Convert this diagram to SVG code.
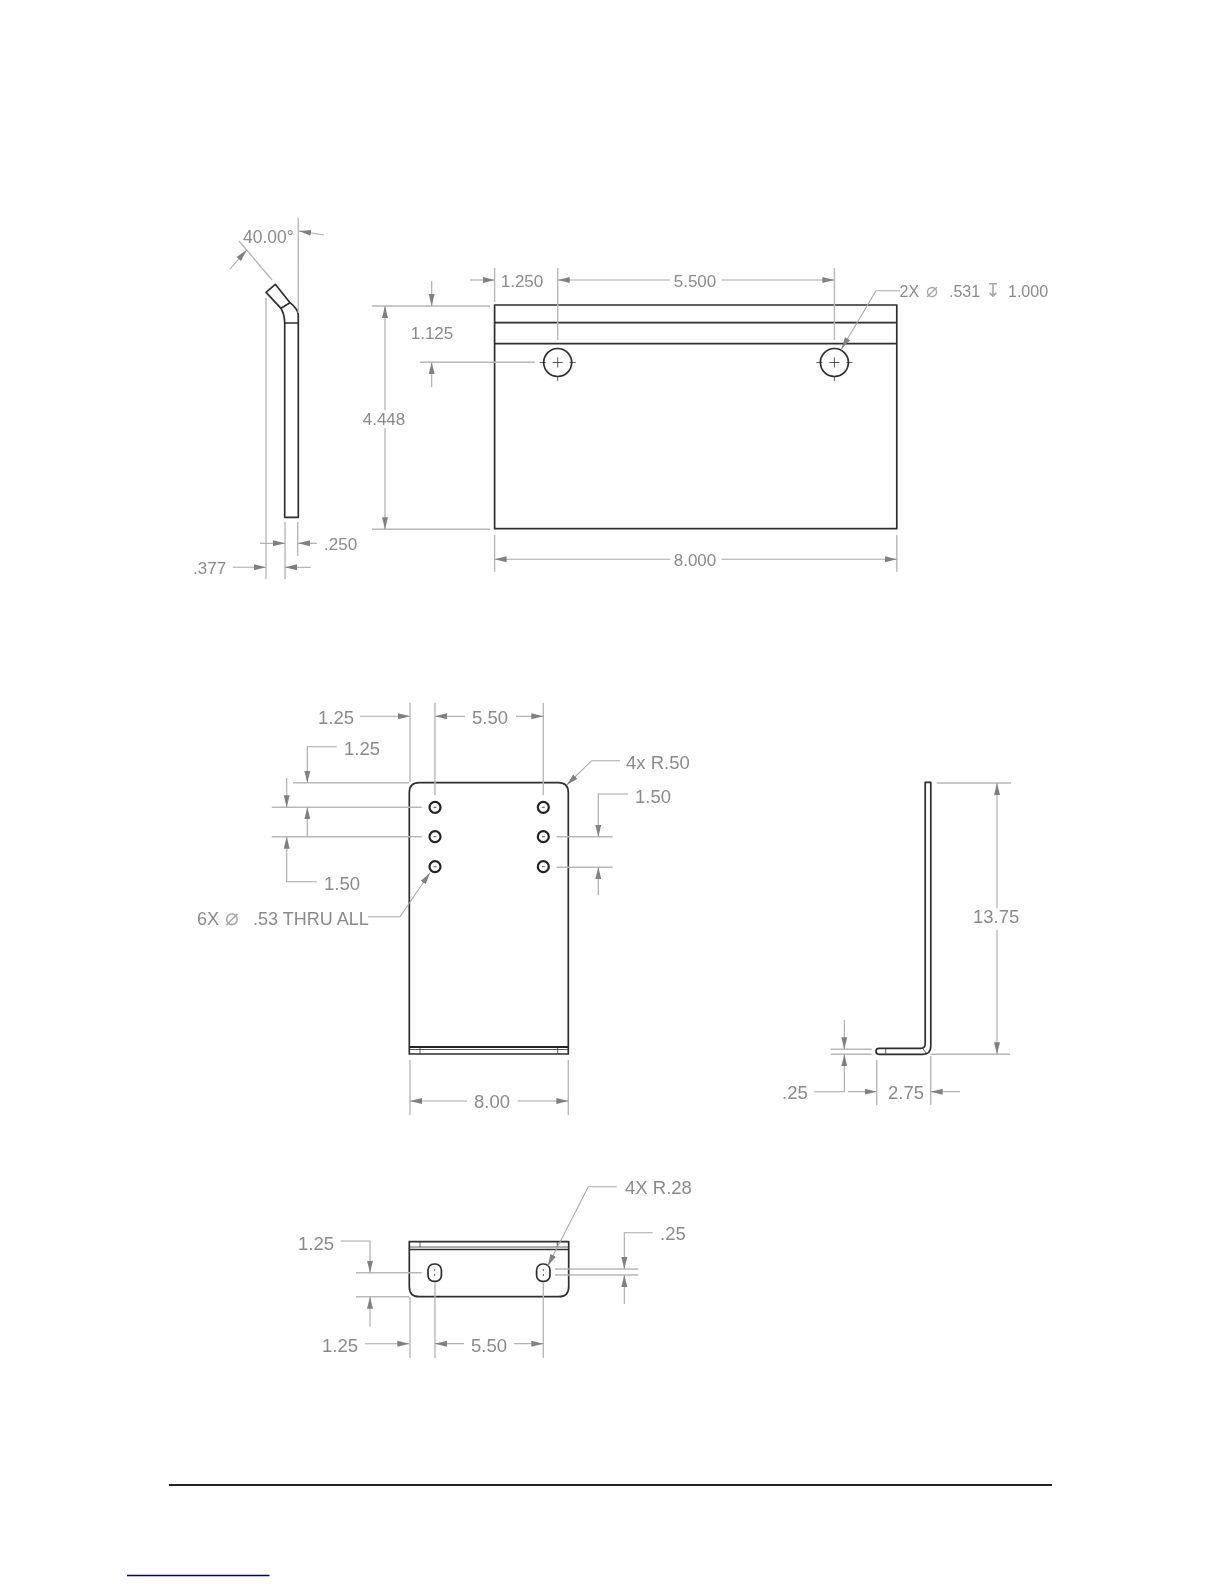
<svg xmlns="http://www.w3.org/2000/svg" width="1224" height="1584" viewBox="0 0 1224 1584">
<style>
text{font-family:"Liberation Sans","DejaVu Sans",sans-serif;fill:#8a8a8a;font-size:17px}
.b{font-size:18.5px}
.m{text-anchor:middle}
.sym{font-family:"DejaVu Sans",sans-serif;font-size:20px;fill:#a8a8a8}
.o{fill:none;stroke:#2e2e2e;stroke-width:1.7;stroke-linejoin:round}
.t{fill:none;stroke:#2e2e2e;stroke-width:.8}
.h{fill:none;stroke:#222;stroke-width:2}
.e{fill:none;stroke:#b8b8b8;stroke-width:1.4}
.a{fill:none;stroke:#a8a8a8;stroke-width:1.1}
.arrow{marker-end:url(#ah)}
</style>
<defs>
<marker id="ah" markerUnits="userSpaceOnUse" markerWidth="13" markerHeight="8" refX="12" refY="4" orient="auto">
<path d="M0 1L12 4L0 7Z" fill="#808080"/>
</marker>
<filter id="soft" x="0" y="0" width="100%" height="100%" filterUnits="userSpaceOnUse"><feGaussianBlur stdDeviation=".35"/></filter>
</defs>
<rect width="1224" height="1584" fill="#fff"/>
<g filter="url(#soft)">
<g id="profile-top">
<path class="o" d="M284.7 517.3H298.3V315Q298 309 290 302.7L275.3 284.3L266 292.3L281 308.3Q284.7 315 284.7 323V517.3Z"/>
<path class="o" d="M284.7 323H298.3M281 308.3L290 302.7"/>
</g>
<g id="front-top">
<rect class="o" x="494.6" y="305" width="402.2" height="223.7"/>
<path class="o" d="M494.6 322.7H896.8M494.6 343.7H896.8"/>
<circle class="o" cx="557.7" cy="362.5" r="14"/>
<circle class="o" cx="834.4" cy="362.5" r="14"/>
<path class="t" d="M539.7 362.5H545.7M552.7 362.5H562.7M569.7 362.5H575.7M557.7 357.5V367.5M557.7 376V381M816.4 362.5H822.4M829.4 362.5H839.4M846.4 362.5H852.4M834.4 357.5V367.5M834.4 376V381"/>
</g>
<g id="plate-front">
<path class="o" d="M409.3 1054V792.7Q409.3 782.7 419.3 782.7H558.3Q568.3 782.7 568.3 792.7V1054Z"/>
<path class="h" d="M409.3 1047H568.3"/>
<path class="t" d="M409.3 1049.5H568.3M420 1048V1054M557.7 1048V1054"/>
<g class="h" style="stroke-width:2.2;fill:none">
<circle cx="435" cy="807.3" r="5.5"/><circle cx="435" cy="836.7" r="5.5"/><circle cx="435" cy="866.7" r="5.5"/>
<circle cx="543.3" cy="807.3" r="5.5"/><circle cx="543.3" cy="836.7" r="5.5"/><circle cx="543.3" cy="866.7" r="5.5"/>
</g>
<path class="t" d="M433.5 807.3H436.5M433.5 836.7H436.5M433.5 866.7H436.5M541.8 807.3H544.8M541.8 836.7H544.8M541.8 866.7H544.8"/>
</g>
<g id="plate-side">
<path class="o" d="M925.2 782.3H930.8V1046Q930.8 1054.3 923 1054.3H879Q876 1054.3 876 1051.3Q876 1048.3 879 1048.3H921Q925.2 1048.3 925.2 1044Z"/>
<path class="t" d="M885.7 1048.3V1054.3M922.7 1048.3L926 1053"/>
</g>
<g id="plate-bottom">
<path class="o" d="M409.3 1241.7H568.7V1286.7Q568.7 1296.7 558.7 1296.7H419.3Q409.3 1296.7 409.3 1286.7Z"/>
<path class="o" d="M409.3 1249.5H568.7"/>
<path class="t" d="M409.3 1247H568.7M420 1242V1247M557.3 1242V1247"/>
<rect class="o" x="428" y="1264" width="13.4" height="17.4" rx="6"/>
<rect class="o" x="536.6" y="1264" width="13.4" height="17.4" rx="6"/>
<path class="t" d="M434.7 1269V1271M434.7 1274V1276M543.3 1269V1271M543.3 1274V1276"/>
</g>
<g id="connectors">
<path class="e" d="M298.3 218V313M239 241L272 280M266 298V579M285 522V579M297.7 522V556"/>
<path class="a arrow" d="M324 235L299 231"/>
<path class="a arrow" d="M230 269L246.7 250"/>
<path class="a arrow" d="M260 543.3H285"/>
<path class="a arrow" d="M317 543.3H298"/>
<path class="a arrow" d="M232.7 567.3H266"/>
<path class="a arrow" d="M310.7 567.3H285"/>
<path class="e" d="M372 306H490M372 529.3H490M420 362.3H535M494.6 268V302M557.7 268V340M834.4 268V340M494.6 535V571.7M896.8 535V571.7"/>
<path class="a arrow" d="M385 410V306"/>
<path class="a arrow" d="M385 428V529.3"/>
<path class="a arrow" d="M431.7 281V306"/>
<path class="a arrow" d="M431.7 387V362.3"/>
<path class="a arrow" d="M470 280H494.6"/>
<path class="a arrow" d="M670 280H557.7"/>
<path class="a arrow" d="M721.6 280H834.4"/>
<path class="a arrow" d="M670 559.3H494.6"/>
<path class="a arrow" d="M721.6 559.3H896.8"/>
<path class="a arrow" d="M900 290.7H876L841.4 349"/>
<path class="e" d="M410 702.7V782M435 702.7V795M543.3 702.7V795M293 782.7H409M271.7 807.3H421.7M271.7 836.7H421.7M556.7 836.7H612.7M556.7 867.3H612.7M410 1060V1115M568.3 1060V1115"/>
<path class="a arrow" d="M360 716.3H410"/>
<path class="a arrow" d="M465 716.3H435"/>
<path class="a arrow" d="M516 716.3H543.3"/>
<path class="a arrow" d="M336.7 746.7H307.3V782.7"/>
<path class="a arrow" d="M286.7 778V807.3"/>
<path class="a arrow" d="M307.3 836.7V807.3"/>
<path class="a arrow" d="M316.7 881.7H286.7V836.7"/>
<path class="a arrow" d="M368 916.7H400L430 872.7"/>
<path class="a arrow" d="M620 760.7H591.7L566.7 785"/>
<path class="a arrow" d="M628 794H598.3V836.7"/>
<path class="a arrow" d="M598.3 895V867.3"/>
<path class="a arrow" d="M467 1101H410"/>
<path class="a arrow" d="M517.7 1101H568.3"/>
<path class="e" d="M936.7 783H1011M930.7 1054.3H1010M830.7 1049.3H871.7M830.7 1054.3H871.7M876.7 1060V1105M930.7 1056V1105"/>
<path class="a arrow" d="M997 908V783"/>
<path class="a arrow" d="M997 930V1054.3"/>
<path class="a arrow" d="M844.3 1020V1049.3"/>
<path class="a arrow" d="M814.3 1091.7H844.3V1054.3"/>
<path class="a arrow" d="M848 1091.7H876.7"/>
<path class="a arrow" d="M960 1091.7H930.7"/>
<path class="e" d="M356 1272.7H421.7M356 1296.7H409M410 1297V1358M435 1282V1358M543.3 1282V1358M555 1269H638M555 1275H638"/>
<path class="a arrow" d="M340.7 1241H370V1272.7"/>
<path class="a arrow" d="M370 1326.7V1296.7"/>
<path class="a arrow" d="M365 1343.7H409.3"/>
<path class="a arrow" d="M464 1343.7H435"/>
<path class="a arrow" d="M514 1343.7H543.3"/>
<path class="a arrow" d="M616.7 1186.7H588.3L547.7 1266"/>
<path class="a arrow" d="M652.7 1232.7H624.3V1269"/>
<path class="a arrow" d="M624.3 1304V1275"/>
</g>
<g id="labels">
<text x="243" y="243" style="font-size:17.5px">40.00°</text>
<text x="324" y="550">.250</text>
<text x="193" y="574">.377</text>
<text class="m" x="384" y="425">4.448</text>
<text class="m" x="432" y="339">1.125</text>
<text class="m" x="522" y="287">1.250</text>
<text class="m" x="695" y="287">5.500</text>
<text class="m" x="695" y="565.7">8.000</text>
<text x="899.5" y="297" style="font-size:16px">2X<tspan class="sym" x="926">⌀</tspan><tspan x="949">.531</tspan><tspan class="sym" x="985" style="font-size:19px">↧</tspan><tspan x="1008">1.000</tspan></text>
<text class="b m" x="336" y="724">1.25</text>
<text class="b m" x="490" y="724">5.50</text>
<text class="b" x="344" y="755">1.25</text>
<text class="b" x="324" y="890">1.50</text>
<text x="197" y="925" style="font-size:18px">6X<tspan class="sym" x="225" style="font-size:23px">⌀</tspan><tspan x="253">.53 THRU ALL</tspan></text>
<text class="b" x="626" y="769">4x R.50</text>
<text class="b" x="635" y="803">1.50</text>
<text class="b m" x="492" y="1108">8.00</text>
<text class="b" x="973" y="923">13.75</text>
<text class="b" x="782" y="1099.3">.25</text>
<text class="b m" x="906" y="1099.3">2.75</text>
<text class="b" x="298" y="1250">1.25</text>
<text class="b" x="322" y="1351.7">1.25</text>
<text class="b m" x="489" y="1351.7">5.50</text>
<text class="b" x="625" y="1194">4X R.28</text>
<text class="b" x="660" y="1240">.25</text>
</g>
</g>
<g id="footer">
<path d="M169 1485H1052" stroke="#222" stroke-width="2" fill="none"/>
<path d="M127 1575.5H269.5" stroke="#00008b" stroke-width="1.4" fill="none"/>
</g>
</svg>
